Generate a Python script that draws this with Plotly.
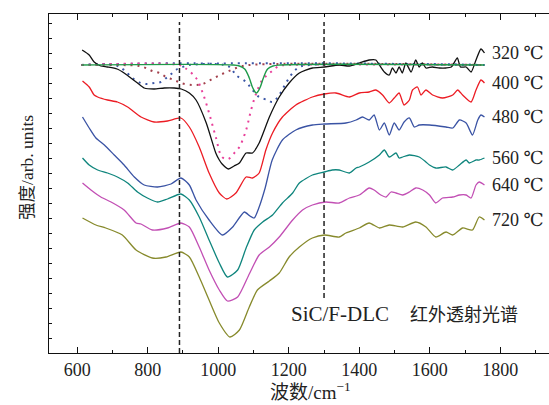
import plotly.graph_objects as go

# ---------------- data (wavenumber cm^-1, stacked intensity arb. units) ----------------
wn_320 = [614, 634, 648, 667, 685, 713, 733, 752, 771, 790, 818, 847, 875, 895, 918, 937, 966, 993, 1003, 1011,
          1029, 1045, 1060, 1079, 1097, 1116, 1145, 1173, 1201, 1230, 1267, 1301, 1343, 1372, 1400, 1428, 1447,
          1457, 1471, 1485, 1494, 1504, 1513, 1522, 1532, 1547, 1560, 1570, 1579, 1589, 1607, 1627, 1646, 1661,
          1678, 1687, 1703, 1717, 1731, 1745, 1755]
int_320 = [303, 298, 291, 287, 286, 284, 280, 275, 270, 265, 264, 265, 265, 264, 260, 253, 230, 200, 193, 189,
           184, 187, 190, 200, 200, 210, 236, 256, 270, 280, 285, 286, 288, 287, 290, 293, 293,
           288, 281, 278, 285, 280, 286, 280, 290, 281, 293, 286, 290, 285, 286, 285, 285, 286,
           295, 286, 286, 281, 293, 304, 300]

wn_400 = [615, 634, 648, 658, 686, 714, 743, 781, 818, 856, 894, 918, 946, 974, 1003, 1024, 1050, 1079, 1097,
          1116, 1135, 1154, 1182, 1220, 1267, 1301, 1334, 1372, 1400, 1428, 1447, 1466, 1485, 1499, 1513, 1527,
          1542, 1551, 1565, 1575, 1589, 1608, 1636, 1665, 1679, 1693, 1717, 1731, 1745, 1755]
int_400 = [272, 266, 258, 256, 253, 251, 246, 236, 231, 232, 235, 226, 206, 180, 160, 154, 160, 176, 175,
           180, 203, 220, 236, 248, 256, 259, 260, 256, 260, 261, 263, 258, 250, 255, 260, 248,
           253, 263, 266, 258, 263, 258, 255, 258, 263, 258, 251, 263, 273, 270]

wn_480 = [615, 634, 653, 677, 705, 733, 762, 790, 828, 866, 894, 918, 937, 974, 1012, 1041, 1074, 1090, 1102,
          1116, 1133, 1153, 1182, 1220, 1267, 1301, 1362, 1391, 1409, 1428, 1442, 1457, 1471, 1485, 1499, 1513,
          1527, 1542, 1556, 1570, 1599, 1646, 1665, 1684, 1703, 1721, 1736, 1745, 1755]
int_480 = [236, 225, 215, 208, 198, 188, 176, 168, 166, 169, 175, 168, 153, 133, 118, 126, 141, 137, 135,
           146, 165, 193, 213, 223, 228, 229, 230, 233, 236, 233, 238, 223, 230, 218, 230, 223,
           231, 235, 226, 228, 228, 226, 225, 233, 230, 218, 233, 238, 236]

wn_560 = [615, 634, 658, 686, 714, 743, 771, 799, 828, 856, 894, 918, 946, 974, 1003, 1026, 1055, 1079, 1102,
          1126, 1154, 1182, 1211, 1230, 1267, 1301, 1323, 1343, 1372, 1391, 1400, 1428, 1457, 1471, 1485, 1504,
          1513, 1523, 1542, 1570, 1589, 1599, 1617, 1646, 1665, 1684, 1703, 1712, 1731, 1740, 1755]
int_560 = [195, 188, 183, 180, 176, 170, 161, 155, 151, 154, 159, 153, 136, 113, 90, 76, 83, 105, 123,
           131, 138, 150, 160, 170, 178, 181, 183, 183, 180, 185, 186, 191, 198, 203, 196, 200,
           195, 196, 198, 196, 191, 188, 185, 186, 183, 188, 193, 190, 193, 193, 195]

wn_640 = [615, 639, 667, 696, 733, 767, 781, 813, 856, 894, 918, 946, 974, 1003, 1026, 1055, 1088, 1116, 1145,
          1173, 1211, 1239, 1267, 1305, 1343, 1372, 1400, 1428, 1442, 1461, 1476, 1490, 1504, 1523, 1542, 1560,
          1580, 1599, 1617, 1636, 1665, 1684, 1703, 1717, 1731, 1740, 1755]
int_640 = [170, 163, 156, 151, 143, 130, 129, 123, 125, 130, 126, 106, 83, 63, 52, 56, 79, 98, 106,
           116, 133, 143, 148, 151, 150, 155, 158, 165, 163, 158, 156, 161, 160, 158, 161, 165,
           163, 158, 150, 155, 156, 158, 158, 155, 168, 171, 168]

wn_720 = [615, 653, 681, 728, 767, 813, 852, 894, 918, 946, 974, 1003, 1033, 1060, 1088, 1111, 1145, 1173,
          1201, 1230, 1267, 1301, 1343, 1362, 1400, 1428, 1457, 1485, 1523, 1560, 1589, 1617, 1646, 1665,
          1693, 1721, 1740, 1755]
int_720 = [135, 128, 125, 118, 103, 95, 96, 101, 96, 76, 53, 30, 16, 23, 46, 63, 72, 80,
           96, 106, 115, 118, 116, 120, 125, 130, 125, 128, 126, 131, 126, 116, 121, 118,
           125, 123, 136, 133]

# fitted components of the 320 C spectrum
wn_fit_green = [612, 1040, 1060, 1075, 1088, 1098, 1108, 1118, 1128, 1140, 1155, 1175, 1755]
int_fit_green = [288, 288, 287, 284, 275, 265, 260, 265, 275, 284, 287, 288, 288]

wn_fit_pink = [612, 889, 906, 937, 955, 974, 993, 1011, 1028, 1048, 1060, 1079, 1093, 1108, 1125, 1149, 1173, 1201, 1755]
int_fit_pink = [288, 288, 285, 275, 261, 240, 216, 196, 194, 201, 206, 223, 243, 260, 273, 281, 287, 288, 288]

wn_fit_brown = [612, 719, 776, 795, 813, 833, 852, 875, 894, 926, 955, 983, 1011, 1037, 1060, 1088, 1755]
int_fit_brown = [288, 288, 287, 285, 282, 280, 276, 273, 270, 268, 269, 274, 279, 283, 286, 288, 288]

wn_fit_blue1 = [612, 705, 733, 756, 781, 799, 818, 837, 856, 870, 884, 899, 918, 1755]
int_fit_blue1 = [288, 288, 283, 275, 270, 269, 270, 271, 276, 280, 284, 286, 288, 288]

wn_fit_blue2 = [612, 1017, 1036, 1050, 1079, 1097, 1116, 1140, 1154, 1173, 1192, 1211, 1230, 1258, 1755]
int_fit_blue2 = [288, 288, 285, 278, 271, 263, 256, 253, 251, 258, 270, 280, 286, 288, 288]

temps = ["320 ℃", "400 ℃", "480 ℃", "560 ℃", "640 ℃", "720 ℃"]
marker_lines = [890, 1300]
x_ticks = [600, 800, 1000, 1200, 1400, 1600, 1800]

series = [(wn_320, int_320, "#111111"), (wn_400, int_400, "#ec1c24"), (wn_480, int_480, "#3a53a4"),
          (wn_560, int_560, "#0f857d"), (wn_640, int_640, "#c24fb4"), (wn_720, int_720, "#878a2c")]

fig = go.Figure()

for wx, wy, col in [(wn_fit_blue1, int_fit_blue1, "#3b56a6"), (wn_fit_blue2, int_fit_blue2, "#3b56a6"),
                    (wn_fit_brown, int_fit_brown, "#a3404c"), (wn_fit_pink, int_fit_pink, "#e8409a")]:
    fig.add_trace(go.Scatter(x=wx, y=wy, mode="lines", line=dict(color=col, width=2, dash="2px,5px", shape="spline"),
                             showlegend=False, hoverinfo="skip"))

for wx, wy, col in series:
    fig.add_trace(go.Scatter(x=wx, y=wy, mode="lines", line=dict(color=col, width=1.3, shape="spline", smoothing=0.6),
                             showlegend=False))

fig.add_trace(go.Scatter(x=wn_fit_green, y=int_fit_green, mode="lines",
                         line=dict(color="#1f9a4a", width=1.4, shape="spline"), showlegend=False))

serif = "Liberation Serif, DejaVu Serif, serif"

for lab, (wx, wy, col) in zip(temps, series):
    fig.add_annotation(x=1772, y=wy[-1], xref="x", yref="y", text=lab, showarrow=False, xanchor="left",
                       yanchor="middle", font=dict(family=serif, size=18, color="#222"))

fig.add_shape(type="line", x0=marker_lines[0], x1=marker_lines[0], y0=0, y1=331, xref="x", yref="y",
              line=dict(color="#222", width=1.5, dash="5px,3px"))
fig.add_shape(type="line", x0=marker_lines[1], x1=marker_lines[1], y0=55, y1=331, xref="x", yref="y",
              line=dict(color="#222", width=1.5, dash="5px,3px"))

fig.add_annotation(x=0.479, y=0.118, xref="paper", yref="paper", xanchor="left", yanchor="middle", showarrow=False,
                   text="SiC/F-DLC&nbsp;&nbsp;&nbsp;&nbsp;"
                        "<span style='font-family:Noto Sans CJK SC;font-size:18px'>红外透射光谱</span>",
                   font=dict(family=serif, size=21, color="#222"))

fig.add_annotation(x=0.522, y=-0.111, xref="paper", yref="paper", xanchor="center", yanchor="middle", showarrow=False,
                   text="<span style='font-family:Noto Sans CJK SC'>波数</span>/cm<sup>−1</sup>",
                   font=dict(family=serif, size=19, color="#222"))

fig.add_annotation(x=-0.046, y=0.546, xref="paper", yref="paper", xanchor="center", yanchor="middle", showarrow=False,
                   textangle=-90,
                   text="<span style='font-family:Noto Sans CJK SC'>强度</span>/arb. units",
                   font=dict(family=serif, size=17.5, color="#222"))

fig.update_xaxes(range=[520, 1938], tickvals=x_ticks, ticks="inside", ticklen=6, tickwidth=1, tickcolor="#111",
                 showline=True, linecolor="#111", linewidth=1.3, mirror="ticks", showgrid=False, zeroline=False,
                 minor=dict(dtick=100, tick0=500, ticks="inside", ticklen=3, tickcolor="#111", showgrid=False),
                 tickfont=dict(family=serif, size=18, color="#222"))
fig.update_yaxes(range=[0, 339], tick0=14.7, dtick=15, ticks="inside", ticklen=3, tickcolor="#111",
                 showticklabels=False, showline=True, linecolor="#111", linewidth=1.3, showgrid=False,
                 zeroline=False)

fig.update_layout(width=549, height=405, margin=dict(l=49, r=0, t=14, b=52),
                  plot_bgcolor="white", paper_bgcolor="white")

fig.write_html("out.html")
